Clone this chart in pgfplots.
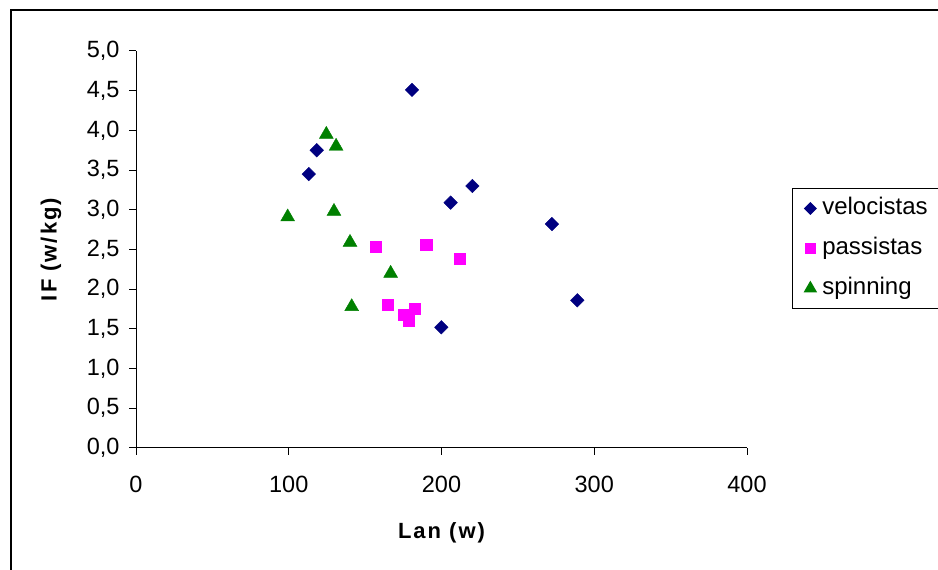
\documentclass[border=0pt]{standalone}
\usepackage{fontspec}
\setmainfont{Liberation Sans}
\usepackage{pgfplots}
\pgfplotsset{compat=1.18}
\definecolor{vel}{RGB}{0,0,128}
\definecolor{pas}{RGB}{255,0,255}
\definecolor{spi}{RGB}{0,128,0}
\begin{document}
\begin{tikzpicture}[x=1bp,y=1bp]
\useasboundingbox (0,0) rectangle (938,570);
\fill[white] (0,0) rectangle (938,570);
\draw[line width=2bp] (11,-20) -- (11,560) -- (960,560);
\begin{axis}[
  at={(136bp,122bp)}, anchor=south west,
  scale only axis, width=611bp, height=397bp,
  xmin=0, xmax=400, ymin=0, ymax=5,
  xtick={0,100,200,300,400},
  ytick={0,0.5,1,1.5,2,2.5,3,3.5,4,4.5,5},
  axis x line=bottom, axis y line=left,
  axis line style={-, line width=1bp, black},
  tick align=outside, major tick length=7bp,
  tick style={black, line width=1bp},
  /pgf/number format/assume math mode=true,
  ticklabel style={font=\fontsize{23.5bp}{27bp}\selectfont},
  yticklabel style={/pgf/number format/.cd, fixed, fixed zerofill, precision=1, use comma, /tikz/.cd, xshift=-6bp},
  xticklabel style={/pgf/number format/.cd, fixed, precision=0, 1000 sep={}, /tikz/.cd, yshift=-18bp},
  xlabel={Lan (w)}, ylabel={IF (w/kg)},
  xlabel style={at={(axis description cs:0.5,-0.2141)}, anchor=center,
    font=\bfseries\fontsize{22bp}{26bp}\selectfont\addfontfeature{LetterSpace=9}},
  ylabel style={at={(axis description cs:-0.139,0.5)}, anchor=center, rotate=0,
    font=\bfseries\fontsize{22bp}{26bp}\selectfont\addfontfeature{LetterSpace=9}},
  legend style={at={(axis description cs:1.0736,0.655)}, anchor=north west,
    draw=black, line width=1bp, font=\fontsize{24bp}{28bp}\selectfont,
    inner xsep=12bp, inner ysep=7bp, row sep=14bp, column sep=4bp,
    nodes={text height=17bp, text depth=5bp, inner sep=2bp}},
  legend cell align=left,
  legend image code/.code={\draw[mark repeat=2,mark phase=2,/tikz/every mark/.append style={scale=0.85}] plot coordinates {(0bp,0bp)(6bp,0bp)(12bp,0bp)};},
]
\addplot[only marks, mark=square*, mark size=4.8bp, color=vel, mark options={rotate=45, fill=vel, draw=vel}]
coordinates {
(180.7,4.51) (118.3,3.75) (113.1,3.45) (220.2,3.30) (206.0,3.09)
(272.3,2.82) (288.9,1.86) (199.9,1.52)
};
\addlegendentry{velocistas}
\addplot[only marks, mark=square*, mark size=5.6bp, color=pas, mark options={fill=pas, draw=pas}]
coordinates {
(157.1,2.54) (190.0,2.56) (211.9,2.38) (164.8,1.80) (182.7,1.75)
(175.0,1.68) (178.7,1.60)
};
\addlegendentry{passistas}
\addplot[only marks, mark=triangle*, mark size=8bp, color=spi, mark options={fill=spi, draw=spi}]
coordinates {
(124.6,3.95) (131.0,3.80) (99.3,2.91) (129.6,2.98) (140.1,2.59)
(166.7,2.20) (141.2,1.78)
};
\addlegendentry{spinning}
\end{axis}
\end{tikzpicture}
\end{document}
